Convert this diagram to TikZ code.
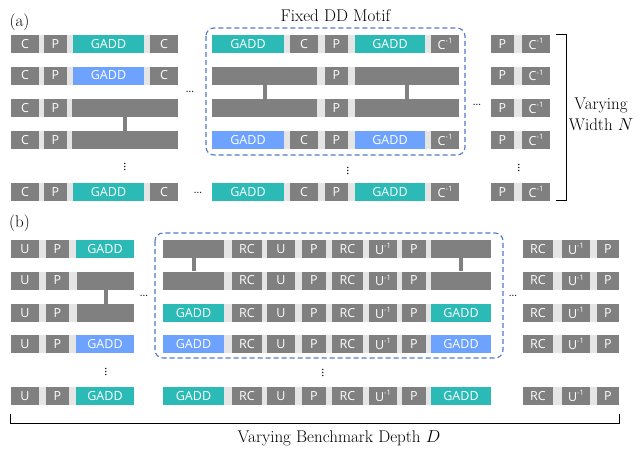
\documentclass[tikz,border=0pt]{standalone}
\usepackage{fontspec}
\newfontfamily\gatefont{Open Sans}
\definecolor{gteal}{HTML}{2BBAB5}
\definecolor{gblue}{HTML}{6EA2FF}
\definecolor{ggray}{HTML}{808080}
\definecolor{gwire}{HTML}{E5E5E5}
\definecolor{gdash}{HTML}{4F79C9}
\tikzset{
  gatebox/.style={rectangle, inner sep=0pt, minimum height=18pt, text=white,
    font=\gatefont\fontsize{12.5}{12.5}\selectfont},
  coupler/.style={draw=ggray, line width=4pt},
  motif/.style={draw=gdash, line width=1.1pt, dash pattern=on 5pt off 3pt, rounded corners=8pt},
  brace/.style={draw=black, line width=0.9pt},
  hdots/.style={inner sep=0pt, font=\bfseries\fontsize{8}{8}\selectfont},
  vdotsn/.style={inner sep=0pt, rotate=90, font=\bfseries\fontsize{9.5}{9.5}\selectfont},
  caption/.style={inner sep=0pt, font=\fontsize{17}{21}\selectfont, align=center}
}
% name, left, right, y centre, colour, label
\newcommand\gate[6]{\node[gatebox, fill=#5, minimum width={(#3-#2)*1pt}] (#1) at ({(#2+#3)/2},#4) {#6};}
% left, right, y centre
\newcommand\wire[3]{\fill[gwire] ({#1},{#3-9}) rectangle ({#2},{#3+9});}
\newcommand\inv[1]{#1\raisebox{0.45em}{\fontsize{7.5}{7.5}\selectfont -1}}
\begin{document}
\begin{tikzpicture}[x=1pt,y=-1pt]
\useasboundingbox (0,0) rectangle (642,452);

% ---------------- (a) ----------------
\node[caption] (lab-a) at (19.5,22) {(a)};
\node[caption] (motif-a-title) at (335.5,16) {Fixed DD Motif};

% left block
\foreach \r/\y in {1/44,2/75.5,3/108,4/140,5/192}{\wire{11}{178}{\y}}
\foreach \r/\y/\c in {1/44/gteal,2/75.5/gblue,5/192/gteal}{
  \gate{aL\r c}{11}{39}{\y}{ggray}{C}
  \gate{aL\r p}{44}{67}{\y}{ggray}{P}
  \gate{aL\r g}{73}{144}{\y}{\c}{GADD}
  \gate{aL\r d}{150}{178}{\y}{ggray}{C}
}
\foreach \r/\y in {3/108,4/140}{
  \gate{aL\r c}{11}{39}{\y}{ggray}{C}
  \gate{aL\r p}{44}{67}{\y}{ggray}{P}
  \gate{aL\r g}{72}{178}{\y}{ggray}{}
}
\draw[coupler] (aL3g.south) -- (aL4g.north);

% middle block
\foreach \r/\y in {1/44,2/75.5,3/108,4/140,5/192}{\wire{212}{459}{\y}}
\foreach \r/\y/\c in {1/44/gteal,4/140/gblue,5/192/gteal}{
  \gate{aM\r g}{212}{284}{\y}{\c}{GADD}
  \gate{aM\r c}{290}{318}{\y}{ggray}{C}
  \gate{aM\r p}{325}{348}{\y}{ggray}{P}
  \gate{aM\r h}{355}{425}{\y}{\c}{GADD}
  \gate{aM\r i}{431}{459}{\y}{ggray}{\inv{C}}
}
\foreach \r/\y in {2/75.5,3/108}{
  \gate{aM\r g}{212}{317}{\y}{ggray}{}
  \gate{aM\r p}{325}{348}{\y}{ggray}{P}
  \gate{aM\r h}{355}{459}{\y}{ggray}{}
}
\draw[coupler] (aM2g.south) -- (aM3g.north);
\draw[coupler] (aM2h.south) -- (aM3h.north);
\draw[motif] (206,28) rectangle (465,155);

% right block
\foreach \r/\y in {1/44,2/75.5,3/108,4/140,5/192}{
  \wire{491}{550}{\y}
  \gate{aR\r p}{491}{514}{\y}{ggray}{P}
  \gate{aR\r i}{522}{550}{\y}{ggray}{\inv{C}}
}

% ellipses
\node[hdots] (aH1) at (190,92) {...};
\node[hdots] (aH2) at (198,193) {...};
\node[hdots] (aH3) at (477,105) {...};
\node[vdotsn] (aV1) at (125,167) {...};
\node[vdotsn] (aV2) at (348,171) {...};
\node[vdotsn] (aV3) at (519,168) {...};

% width bracket
\draw[brace] (556,34) -- (566,34) -- (566,200) -- (556,200);
\node[caption] (width-label) at (601,114) {Varying\\Width $N$};

% ---------------- (b) ----------------
\node[caption] (lab-b) at (19.5,223) {(b)};

% left block
\foreach \r/\y in {1/249,2/280.5,3/313,4/344,5/396}{\wire{11}{134}{\y}}
\foreach \r/\y/\c in {1/249/gteal,4/344/gblue,5/396/gteal}{
  \gate{bL\r u}{11}{39}{\y}{ggray}{U}
  \gate{bL\r p}{46}{69}{\y}{ggray}{P}
  \gate{bL\r g}{76}{134}{\y}{\c}{GADD}
}
\foreach \r/\y in {2/280.5,3/313}{
  \gate{bL\r u}{11}{39}{\y}{ggray}{U}
  \gate{bL\r p}{46}{69}{\y}{ggray}{P}
  \gate{bL\r g}{77}{134}{\y}{ggray}{}
}
\draw[coupler] (bL2g.south) -- (bL3g.north);

% middle block
\foreach \r/\y/\c/\t in {1/249/ggray/{},2/280.5/ggray/{},3/313/gteal/GADD,4/344/gblue/GADD,5/396/gteal/GADD}{
  \wire{163}{491}{\y}
  \gate{bM\r g}{163}{224}{\y}{\c}{\t}
  \gate{bM\r a}{232}{262}{\y}{ggray}{RC}
  \gate{bM\r u}{267}{295}{\y}{ggray}{U}
  \gate{bM\r p}{302}{326}{\y}{ggray}{P}
  \gate{bM\r b}{332}{363}{\y}{ggray}{RC}
  \gate{bM\r v}{369}{397}{\y}{ggray}{\inv{U}}
  \gate{bM\r q}{402}{426}{\y}{ggray}{P}
  \gate{bM\r h}{431}{491}{\y}{\c}{\t}
}
\draw[coupler] (bM1g.south) -- (bM2g.north);
\draw[coupler] (bM1h.south) -- (bM2h.north);
\draw[motif] (155,233) rectangle (503,358);

% right block
\foreach \r/\y in {1/249,2/280.5,3/313,4/344,5/396}{
  \wire{523}{619}{\y}
  \gate{bR\r a}{523}{553}{\y}{ggray}{RC}
  \gate{bR\r v}{562}{590}{\y}{ggray}{\inv{U}}
  \gate{bR\r p}{597}{619}{\y}{ggray}{P}
}

% ellipses
\node[hdots] (bH1) at (144,296) {...};
\node[hdots] (bH2) at (513,296) {...};
\node[vdotsn] (bV1) at (106,372) {...};
\node[vdotsn] (bV2) at (323,373) {...};

% depth bracket
\draw[brace] (10,414) -- (10,423) -- (619,423) -- (619,414);
\node[caption] (depth-label) at (339,438) {Varying Benchmark Depth $D$};
\end{tikzpicture}
\end{document}
